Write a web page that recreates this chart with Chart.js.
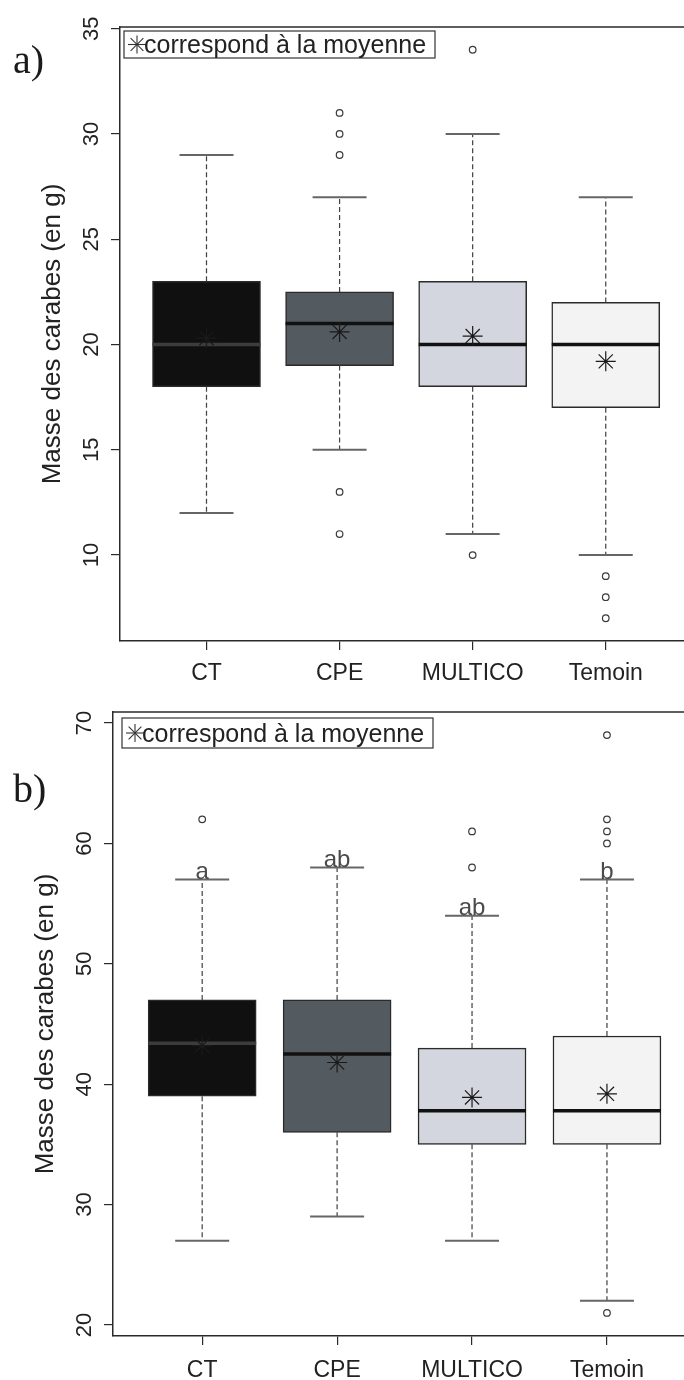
<!DOCTYPE html>
<html lang="fr">
<head>
<meta charset="utf-8">
<title>Masse des carabes</title>
<script src="https://cdn.jsdelivr.net/npm/chart.js@4.4.1/dist/chart.umd.min.js"></script>
<style>
  html, body { margin: 0; padding: 0; background: #fff; overflow: hidden; }
  .panneau { position: absolute; left: 0; width: 684px; height: 690px; }
  #panneau-a { top: 0; }
  #panneau-b { top: 690px; }
</style>
</head>
<body>
<div class="panneau" id="panneau-a"><canvas id="graphe-a" width="684" height="690"></canvas></div>
<div class="panneau" id="panneau-b"><canvas id="graphe-b" width="684" height="690"></canvas></div>
<script>
// Traitements (axe des x), communs aux deux panneaux.
const TRAITEMENTS = ['CT', 'CPE', 'MULTICO', 'Temoin'];

// Panneau a) : bornes des moustaches, quartiles, médianes, moyennes, points atypiques.
const A_MIN = [12, 15, 11, 10];
const A_Q1 = [18, 19, 18, 17];
const A_MEDIANE = [20, 21, 20, 20];
const A_Q3 = [23, 22.5, 23, 22];
const A_MAX = [29, 27, 30, 27];
const A_MOYENNE = [20.3, 20.6, 20.4, 19.2];
const A_ATYPIQUES = [[], [31, 30, 29, 13, 11], [34, 10], [9, 8, 7]];
const A_TICKS = [10, 15, 20, 25, 30, 35];

// Panneau b)
const B_MIN = [27, 29, 27, 22];
const B_Q1 = [39, 36, 35, 35];
const B_MEDIANE = [43.4, 42.5, 37.8, 37.8];
const B_Q3 = [47, 47, 43, 44];
const B_MAX = [57, 58, 54, 57];
const B_MOYENNE = [43.2, 41.8, 38.9, 39.2];
const B_ATYPIQUES = [[62], [], [61, 58], [69, 62, 61, 60, 21]];
const B_LETTRES = ['a', 'ab', 'ab', 'b'];
const B_TICKS = [20, 30, 40, 50, 60, 70];

// Styles
const COULEURS_BOITES = ['#101010', '#535b60', '#d3d6de', '#f3f3f3'];
const COULEURS_MEDIANE = ['#3c3c3c', '#111', '#111', '#111'];
const SANS = '"Liberation Sans", Arial, Helvetica, sans-serif';
const SERIF = '"Liberation Serif", "Times New Roman", serif';
const TRAIT = '#2a2a2a';

function trait(ctx, x1, y1, x2, y2) {
    ctx.beginPath();
    ctx.moveTo(x1, y1);
    ctx.lineTo(x2, y2);
    ctx.stroke();
}

// Moustaches, chapeaux et médianes, dessinés juste après les boîtes.
const detailsBoites = {
    id: 'detailsBoites',
    afterDatasetDraw(chart, args, opts) {
        if (args.index !== 2) return;
        const { ctx } = chart;
        const x = chart.scales.x;
        const y = chart.scales.y;
        const d = opts.d;
        const barres = chart.getDatasetMeta(2).data;
        ctx.save();
        d.mediane.forEach((m, i) => {
            const cx = x.getPixelForValue(i + 1);
            ctx.strokeStyle = '#404040';
            ctx.lineWidth = 1.2;
            ctx.setLineDash([5, 3]);
            trait(ctx, cx, y.getPixelForValue(d.q3[i]), cx, y.getPixelForValue(d.max[i]));
            trait(ctx, cx, y.getPixelForValue(d.q1[i]), cx, y.getPixelForValue(d.min[i]));
            ctx.setLineDash([]);
            ctx.strokeStyle = '#666';
            ctx.lineWidth = 2;
            const demi = 27;
            trait(ctx, cx - demi, y.getPixelForValue(d.max[i]), cx + demi, y.getPixelForValue(d.max[i]));
            trait(ctx, cx - demi, y.getPixelForValue(d.min[i]), cx + demi, y.getPixelForValue(d.min[i]));
            const w = barres[i].width / 2;
            ctx.strokeStyle = COULEURS_MEDIANE[i];
            ctx.lineWidth = 3.5;
            trait(ctx, cx - w, y.getPixelForValue(m), cx + w, y.getPixelForValue(m));
        });
        ctx.restore();
    },
};

// Cadre, légende, étiquettes de l'axe y, titre, lettres.
const habillage = {
    id: 'habillage',
    afterDraw(chart, args, opts) {
        const { ctx, chartArea: zone } = chart;
        const y = chart.scales.y;
        const x = chart.scales.x;
        ctx.save();
        ctx.strokeStyle = TRAIT;
        ctx.lineWidth = 1.5;
        trait(ctx, zone.left, zone.top, zone.right, zone.top);

        // étiquettes y, parallèles à l'axe
        ctx.fillStyle = '#222';
        ctx.font = '22px ' + SANS;
        ctx.textAlign = 'center';
        ctx.textBaseline = 'alphabetic';
        y.ticks.forEach((t) => {
            ctx.save();
            ctx.translate(zone.left - 22, y.getPixelForValue(t.value));
            ctx.rotate(-Math.PI / 2);
            ctx.fillText(String(t.value), 0, 0);
            ctx.restore();
        });

        // titre de l'axe y
        ctx.save();
        ctx.font = '26px ' + SANS;
        ctx.translate(zone.left - 60, (zone.top + zone.bottom) / 2);
        ctx.rotate(-Math.PI / 2);
        ctx.fillText('Masse des carabes (en g)', 0, 0);
        ctx.restore();

        // lettre du panneau
        ctx.font = '40px ' + SERIF;
        ctx.textAlign = 'left';
        ctx.fillStyle = '#1a1a1a';
        ctx.fillText(opts.panneau, 13, opts.panneauY);

        // légende
        const lx = zone.left + opts.legende.dx;
        const ly = zone.top + opts.legende.dy;
        const lh = opts.legende.h;
        ctx.strokeStyle = '#333';
        ctx.lineWidth = 1.2;
        ctx.strokeRect(lx, ly, 311, lh);
        const sx = lx + 13;
        const sy = ly + lh / 2;
        const r = 9;
        const k = r * Math.SQRT1_2;
        ctx.lineWidth = 1.1;
        trait(ctx, sx - r, sy, sx + r, sy);
        trait(ctx, sx, sy - r, sx, sy + r);
        trait(ctx, sx - k, sy - k, sx + k, sy + k);
        trait(ctx, sx - k, sy + k, sx + k, sy - k);
        ctx.fillStyle = '#222';
        ctx.font = '25px ' + SANS;
        ctx.fillText('correspond à la moyenne', lx + 20, sy + 8.5);

        // lettres de groupes au-dessus des moustaches
        if (opts.lettres) {
            ctx.font = '24px ' + SANS;
            ctx.textAlign = 'center';
            ctx.fillStyle = '#4a4a4a';
            opts.lettres.forEach((l, i) => {
                ctx.fillText(l, x.getPixelForValue(i + 1), y.getPixelForValue(opts.d.max[i]) - 1);
            });
        }
        ctx.restore();
    },
};

function points(valeurs) {
    return valeurs.map((v, i) => ({ x: i + 1, y: v }));
}

function atypiques(listes) {
    const res = [];
    listes.forEach((l, i) => l.forEach((v) => res.push({ x: i + 1, y: v })));
    return res;
}

function graphe(id, d, reglages) {
    return new Chart(document.getElementById(id), {
        type: 'bar',
        data: {
            datasets: [
                {
                    type: 'scatter',
                    data: points(d.moyenne),
                    pointStyle: 'star',
                    radius: 10,
                    borderColor: '#1a1a1a',
                    borderWidth: 1.2,
                },
                {
                    type: 'scatter',
                    data: atypiques(d.atypiques),
                    pointStyle: 'circle',
                    radius: 3.3,
                    borderColor: '#3a3a3a',
                    backgroundColor: 'rgba(255,255,255,0)',
                    borderWidth: 1.2,
                },
                {
                    type: 'bar',
                    data: d.q1.map((q, i) => ({ x: i + 1, y: [q, d.q3[i]] })),
                    backgroundColor: COULEURS_BOITES,
                    borderColor: TRAIT,
                    borderWidth: 1.5,
                    borderSkipped: false,
                    barThickness: 108,
                },
            ],
        },
        options: {
            responsive: false,
            animation: false,
            events: [],
            layout: {
                autoPadding: false,
                padding: { top: reglages.haut, left: 0, right: 0, bottom: 0 },
            },
            scales: {
                x: {
                    type: 'linear',
                    min: reglages.xmin,
                    max: reglages.xmax,
                    offset: false,
                    afterBuildTicks: (s) => {
                        s.ticks = TRAITEMENTS.map((_, i) => ({ value: i + 1 }));
                    },
                    afterFit: (s) => { s.height = reglages.basX; },
                    ticks: {
                        callback: (v) => TRAITEMENTS[Math.round(v) - 1],
                        color: '#222',
                        font: { family: SANS, size: 23 },
                        padding: reglages.margeX,
                        maxRotation: 0,
                        autoSkip: false,
                    },
                    grid: { offset: false, drawOnChartArea: false, tickLength: 9, color: TRAIT, lineWidth: 1.2 },
                    border: { display: true, color: TRAIT, width: 1.5 },
                },
                y: {
                    type: 'linear',
                    min: reglages.ymin,
                    max: reglages.ymax,
                    afterBuildTicks: (s) => {
                        s.ticks = reglages.ticks.map((v) => ({ value: v }));
                    },
                    afterFit: (s) => { s.width = reglages.gauche; },
                    ticks: { display: false },
                    grid: { drawOnChartArea: false, tickLength: 9, color: TRAIT, lineWidth: 1.2 },
                    border: { display: true, color: TRAIT, width: 1.5 },
                },
            },
            plugins: {
                legend: { display: false },
                tooltip: { enabled: false },
                detailsBoites: { d },
                habillage: {
                    d,
                    panneau: reglages.panneau,
                    panneauY: reglages.panneauY,
                    legende: reglages.legende,
                    lettres: reglages.lettres,
                },
            },
        },
        plugins: [detailsBoites, habillage],
    });
}

graphe('graphe-a', {
    min: A_MIN, q1: A_Q1, mediane: A_MEDIANE, q3: A_Q3, max: A_MAX,
    moyenne: A_MOYENNE, atypiques: A_ATYPIQUES,
}, {
    haut: 27, gauche: 120, basX: 49, margeX: 10,
    xmin: 0.35, xmax: 4.588, ymin: 5.92, ymax: 35.08, ticks: A_TICKS,
    panneau: 'a)', panneauY: 73,
    legende: { dx: 4, dy: 4, h: 27 },
});

graphe('graphe-b', {
    min: B_MIN, q1: B_Q1, mediane: B_MEDIANE, q3: B_Q3, max: B_MAX,
    moyenne: B_MOYENNE, atypiques: B_ATYPIQUES,
}, {
    haut: 22, gauche: 113, basX: 44, margeX: 12,
    xmin: 0.339, xmax: 4.571, ymin: 19.08, ymax: 70.92, ticks: B_TICKS,
    panneau: 'b)', panneauY: 112,
    legende: { dx: 9, dy: 6, h: 30 },
    lettres: B_LETTRES,
});
</script>
</body>
</html>
